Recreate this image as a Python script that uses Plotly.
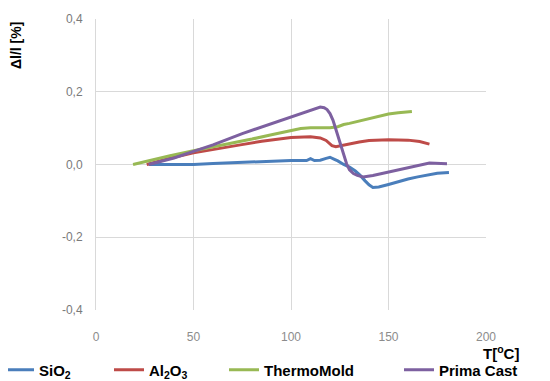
import plotly.graph_objects as go

# --- data ---
sio2_T = [27, 40, 50, 60, 74, 90, 100, 108, 110, 112, 115, 118, 120, 122, 124, 127, 130, 133, 135.5, 138, 140, 142, 145, 150, 155, 160, 165, 170, 175, 181]
sio2_v = [0.0, 0.0, 0.0, 0.003, 0.006, 0.010, 0.011, 0.011, 0.016, 0.011, 0.012, 0.017, 0.020, 0.015, 0.010, 0.0, -0.007, -0.018, -0.030, -0.045, -0.056, -0.063, -0.062, -0.055, -0.047, -0.040, -0.034, -0.029, -0.024, -0.022]

al2o3_T = [26, 30, 40, 50, 60, 74, 85, 100, 110, 115, 118, 121, 123, 127, 130, 135, 140, 150, 160, 166, 171]
al2o3_v = [0.0, 0.006, 0.020, 0.032, 0.042, 0.054, 0.064, 0.074, 0.076, 0.073, 0.066, 0.052, 0.049, 0.054, 0.057, 0.062, 0.066, 0.068, 0.067, 0.063, 0.056]

thermo_T = [19, 25, 30, 38, 50, 60, 74, 80, 90, 100, 105, 110, 115, 120, 124, 127, 130, 135, 140, 145, 150, 155, 162]
thermo_v = [0.0, 0.008, 0.015, 0.024, 0.038, 0.048, 0.063, 0.070, 0.082, 0.094, 0.099, 0.101, 0.101, 0.101, 0.104, 0.110, 0.113, 0.120, 0.127, 0.133, 0.139, 0.142, 0.146]

prima_T = [27, 40, 50, 60, 75, 90, 100, 110, 113, 115, 117, 118.5, 120, 121.5, 123, 125, 127, 128.5, 130, 132, 134, 137, 142, 150, 161, 171, 180]
prima_v = [0.0, 0.018, 0.036, 0.054, 0.085, 0.113, 0.131, 0.150, 0.156, 0.158, 0.156, 0.151, 0.140, 0.122, 0.097, 0.062, 0.025, 0.002, -0.015, -0.025, -0.030, -0.034, -0.030, -0.021, -0.007, 0.004, 0.002]

series_names = ["<b>SiO<sub>2</sub></b>", "<b>Al<sub>2</sub>O<sub>3</sub></b>", "<b>ThermoMold</b>", "<b>Prima Cast</b>"]
series_colors = ["#4A7EBB", "#BE4B48", "#98B954", "#7D60A0"]

x_ticks = [0, 50, 100, 150, 200]
y_ticks = [-0.4, -0.2, 0.0, 0.2, 0.4]
y_tick_labels = ["-0,4", "-0,2", "0,0", "0,2", "0,4"]

fig = go.Figure()
data = [(sio2_T, sio2_v), (al2o3_T, al2o3_v), (thermo_T, thermo_v), (prima_T, prima_v)]
legend_ids = ["legend", "legend2", "legend3", "legend4"]
for (t, v), name, col, lg in zip(data, series_names, series_colors, legend_ids):
    fig.add_trace(go.Scatter(x=t, y=v, mode="lines", name=name,
                             line=dict(color=col, width=3),
                             legend=lg))

# the page body has an 8px margin, so the figure starts at (8, 8) on screen
OFF = 8
PL, PR, PT, PB = 96, 486, 19, 310  # plot area in screen pixels

def px_to_paper_x(px):
    return (px - PL) / float(PR - PL)

def py_to_paper_y(py):
    return (PB - py) / float(PB - PT)

leg_font = dict(family="Liberation Sans, Arial, sans-serif", size=15, color="#000000")
leg_common = dict(y=py_to_paper_y(370), yanchor="middle", xanchor="left", orientation="h",
                  font=leg_font, bgcolor="rgba(0,0,0,0)", borderwidth=0,
                  itemwidth=30, tracegroupgap=0)
leg_pxs = [-1, 109, 224, 399]

W, H = 550 - OFF, 381 - OFF
fig.update_layout(
    width=W, height=H,
    margin=dict(l=PL - OFF, r=550 - PR, t=PT - OFF, b=381 - PB, autoexpand=False),
    paper_bgcolor="white", plot_bgcolor="white",
    separators=",.",
    showlegend=True,
    legend=dict(x=px_to_paper_x(leg_pxs[0]), **leg_common),
    legend2=dict(x=px_to_paper_x(leg_pxs[1]), **leg_common),
    legend3=dict(x=px_to_paper_x(leg_pxs[2]), **leg_common),
    legend4=dict(x=px_to_paper_x(leg_pxs[3]), **leg_common),
    xaxis=dict(range=[0, 200], tickvals=x_ticks, showgrid=True, gridcolor="#D9D9D9", gridwidth=1,
               zeroline=False, showline=False, ticks="",
               tickfont=dict(family="Liberation Sans, Arial, sans-serif", size=12, color="#8C8C8C"),
               ticklabelstandoff=18),
    yaxis=dict(range=[-0.4, 0.4], tickvals=y_ticks, ticktext=y_tick_labels, showgrid=True,
               gridcolor="#D9D9D9", gridwidth=1, zeroline=False,
               showline=True, linecolor="#D9D9D9", linewidth=1, ticks="",
               tickfont=dict(family="Liberation Sans, Arial, sans-serif", size=12, color="#7A7A7A"),
               ticklabelstandoff=10),
    annotations=[
        dict(text="<b>Δl/l [%]</b>", textangle=-90, xref="paper", yref="paper",
             x=px_to_paper_x(6), y=py_to_paper_y(46), xanchor="left", yanchor="middle",
             showarrow=False, font=dict(family="Liberation Sans, Arial, sans-serif", size=14, color="#000000")),
        dict(text="<b>T[<sup>o</sup>C]</b>", xref="paper", yref="paper",
             x=px_to_paper_x(521), y=py_to_paper_y(352), xanchor="right", yanchor="middle",
             showarrow=False, font=dict(family="Liberation Sans, Arial, sans-serif", size=15, color="#000000")),
    ],
)

fig.write_html("out.html")
